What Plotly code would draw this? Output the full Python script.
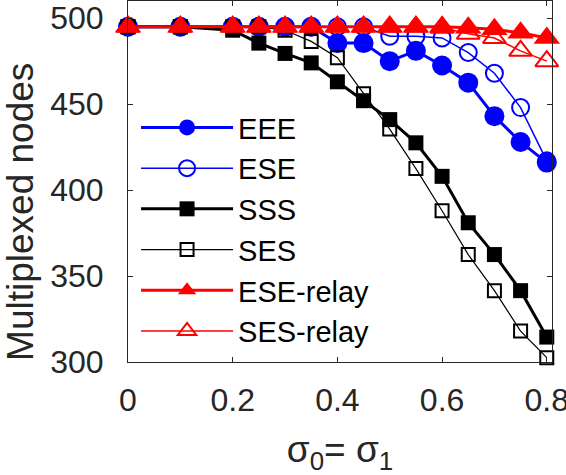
import plotly.graph_objects as go

sigma = [0, 0.1, 0.2, 0.25, 0.3, 0.35, 0.4, 0.45, 0.5, 0.55, 0.6, 0.65, 0.7, 0.75, 0.8]
EEE = [495, 495, 495, 495, 495, 495, 485.5, 485.5, 475, 481, 472.5, 462.5, 443, 428, 416]
ESE = [495, 495, 495, 495, 495, 495, 495, 495, 489.5, 489.5, 488.5, 480, 468, 448, 417]
SSS = [495, 495, 493, 485.5, 479.5, 474, 463, 452, 441, 427.5, 408, 381, 362.5, 341.5, 314.5]
SES = [495, 495, 495, 495, 493, 486.5, 477, 456, 435.5, 412.5, 388, 362.5, 341.5, 318, 302.5]
ESE_relay = [495, 495, 495, 495, 495, 495, 495, 495, 495, 495, 495, 494.5, 493.5, 491.5, 488.5]
SES_relay = [495, 495, 495, 495, 495, 495, 495, 495, 495, 495, 494.5, 491, 488.5, 481, 475]

x_ticks = [0, 0.2, 0.4, 0.6, 0.8]
x_labels = ["0", "0.2", "0.4", "0.6", "0.8"]
y_ticks = [300, 350, 400, 450, 500]

series = [
    ("EEE", EEE, "#0000ff", 3, "circle", 20, True),
    ("ESE", ESE, "#0000ff", 1.5, "circle-open", 17, False),
    ("SSS", SSS, "#000000", 3, "square", 15, True),
    ("SES", SES, "#000000", 1.2, "square-open", 13, False),
    ("ESE-relay", ESE_relay, "#ff0000", 3, "triangle-up", 23, True),
    ("SES-relay", SES_relay, "#ff0000", 1.5, "triangle-up-open", 20, False),
]

fig = go.Figure()
for name, ys, col, lw, sym, sz, filled in series:
    fig.add_trace(go.Scatter(
        x=sigma, y=ys, name=name, mode="lines+markers",
        line=dict(color=col, width=lw),
        marker=dict(symbol=sym, size=sz, color=col,
                    line=dict(color=col, width=2 if not filled else 0)),
        cliponaxis=False,
    ))

axis_common = dict(
    showgrid=False, zeroline=False, showline=True, linecolor="#262626",
    linewidth=1, mirror="ticks", ticks="inside", ticklen=5, tickcolor="#262626",
    tickfont=dict(family="Liberation Sans, Arial", size=32, color="#262626"),
)

fig.update_layout(
    width=566, height=475,
    margin=dict(l=128, r=14, t=1, b=113, autoexpand=False),
    paper_bgcolor="white", plot_bgcolor="white",
    xaxis=dict(range=[0, 0.81], tickvals=x_ticks, ticktext=x_labels,
               ticklabelstandoff=10, ticklabeloverflow="allow",
               title=dict(text="σ<sub>0</sub>= σ<sub>1</sub>", standoff=18,
                          font=dict(family="Liberation Sans, Arial", size=37, color="#262626")),
               **axis_common),
    yaxis=dict(range=[300, 510], tickvals=y_ticks, ticklabelstandoff=17,
               **axis_common),
    legend=dict(x=0.019, y=0.72, xanchor="left", yanchor="top",
                bgcolor="rgba(0,0,0,0)", borderwidth=0, itemwidth=92,
                tracegroupgap=0,
                font=dict(family="Liberation Sans, Arial", size=29, color="#000000")),
    showlegend=True,
    annotations=[dict(
        text="Multiplexed nodes", textangle=-90, showarrow=False,
        xref="paper", yref="paper", x=-0.255, y=0.4155,
        xanchor="center", yanchor="middle",
        font=dict(family="Liberation Sans, Arial", size=37, color="#262626"),
    )],
)

fig.write_html("out.html", config={"displayModeBar": False},
               post_script="document.body.style.margin='0';document.body.style.padding='0';")
